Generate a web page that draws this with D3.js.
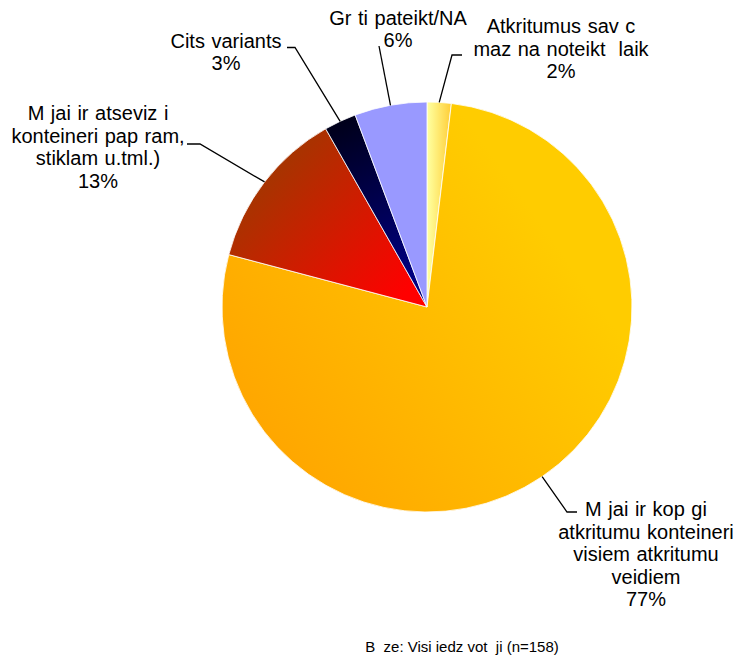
<!DOCTYPE html>
<html>
<head>
<meta charset="utf-8">
<script src="https://cdn.jsdelivr.net/npm/d3@7"></script>
<style>
  html, body { margin: 0; padding: 0; background: #fff; }
  text { font-family: "Liberation Sans", Arial, sans-serif; white-space: pre; fill: #000; }
</style>
</head>
<body>
<div id="chart"></div>
<script>
// answers, in pie order (clockwise from 12 o'clock)
const labels = [
  ['Atkritumus sav c', 'maz na noteikt  laik'],
  ['M jai ir kop gi', 'atkritumu konteineri', 'visiem atkritumu', 'veidiem'],
  ['M jai ir atseviz i', 'konteineri pap ram,', 'stiklam u.tml.)'],
  ['Cits variants'],
  ['Gr ti pateikt/NA']
]
const counts = [3, 122, 20, 4, 9]
const total = 158
const footer = 'B  ze: Visi iedz vot  ji (n=158)'

const width = 735
const height = 660
const cx = 427
const cy = 307
const radius = 205

// label anchor (center x, first baseline) and leader elbow points, page coords
const labelPos = [
  {x: 561, y: 33, leader: [[452, 55], [462, 55]]},
  {x: 646, y: 516, leader: [[567, 512], [577, 512]]},
  {x: 98, y: 120, leader: [[200, 144], [187, 144]]},
  {x: 226, y: 47.5, leader: [[295, 47.5], [287, 47.5]]},
  {x: 398, y: 24.5, leader: [[379, 46]]}
]
const lineHeight = 22.5

const svg = d3.select('#chart').append('svg')
  .attr('width', width)
  .attr('height', height)

// gradients in page coords, shifted to the pie group's origin below
const grads = [
  {x1: 428, y1: 0, x2: 452, y2: 0, stops: ['#ffff9e', '#ffcc33']},
  {x1: 250, y1: 470, x2: 560, y2: 250, stops: ['#ffa300', '#ffcc00']},
  {x1: 270, y1: 180, x2: 400, y2: 300, stops: ['#a83300', '#ff0000']},
  {x1: 335, y1: 120, x2: 405, y2: 280, stops: ['#000018', '#000080']},
  {x1: 0, y1: 0, x2: 1, y2: 0, stops: ['#9999ff', '#9999ff']}
]
const defs = svg.append('defs')
grads.forEach((gd, i) => {
  const lg = defs.append('linearGradient')
    .attr('id', `g${i}`)
    .attr('gradientUnits', 'userSpaceOnUse')
    .attr('x1', gd.x1 - cx).attr('y1', gd.y1 - cy)
    .attr('x2', gd.x2 - cx).attr('y2', gd.y2 - cy)
  lg.append('stop').attr('offset', 0).attr('stop-color', gd.stops[0])
  lg.append('stop').attr('offset', 1).attr('stop-color', gd.stops[1])
})

const pie = d3.pie().sort(null).value((d) => d)
const arcs = pie(counts)
const arc = d3.arc().innerRadius(0).outerRadius(radius)

const chart = svg.append('g')
  .attr('transform', `translate(${cx}, ${cy})`)

chart.selectAll('.slice').data(arcs)
  .enter().append('path')
    .attr('class', 'slice')
    .attr('d', arc)
    .attr('fill', (d, i) => `url(#g${i})`)
    .attr('stroke', '#fff')
    .attr('stroke-width', 0.8)

// leader lines: from the rim at the slice's mid angle to the label elbow
const rimPoint = (d) => {
  const a = (d.startAngle + d.endAngle) / 2
  return [cx + radius * Math.sin(a), cy - radius * Math.cos(a)]
}
svg.selectAll('.leader').data(arcs)
  .enter().append('polyline')
    .attr('class', 'leader')
    .attr('points', (d, i) => [rimPoint(d)].concat(labelPos[i].leader).map((p) => p.join(',')).join(' '))
    .attr('fill', 'none')
    .attr('stroke', '#000')
    .attr('stroke-width', 1.3)

// labels: text lines plus rounded percent
const label = svg.selectAll('.label').data(arcs)
  .enter().append('text')
    .attr('class', 'label')
    .attr('xml:space', 'preserve')
    .attr('text-anchor', 'middle')
    .attr('font-size', '20px')
    .attr('word-spacing', '1px')
label.selectAll('tspan')
  .data((d, i) => labels[i].concat(`${Math.round(100 * d.value / total)}%`)
    .map((t, j) => ({t, j, i})))
  .enter().append('tspan')
    .attr('x', (d) => labelPos[d.i].x)
    .attr('y', (d) => labelPos[d.i].y + d.j * lineHeight)
    .text((d) => d.t)

svg.append('text')
  .attr('xml:space', 'preserve')
  .attr('x', 462)
  .attr('y', 652)
  .attr('text-anchor', 'middle')
  .attr('font-size', '15px')
  .text(footer)
</script>
</body>
</html>
